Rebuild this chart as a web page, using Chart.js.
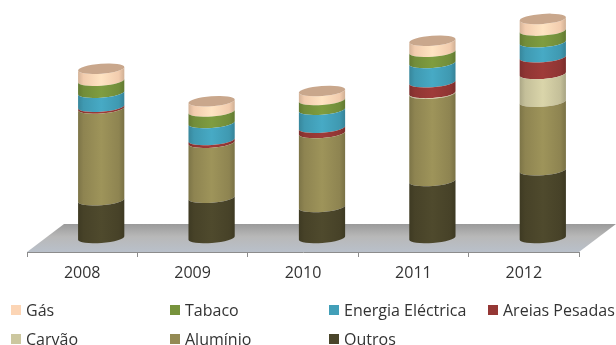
<!DOCTYPE html>
<html><head><meta charset="utf-8">
<style>html,body{margin:0;padding:0;background:#fff;overflow:hidden}#w{position:relative;width:616px;height:345px}</style>
<script src="https://cdn.jsdelivr.net/npm/chart.js@4"></script>
</head><body><div id="w"><canvas id="c" width="616" height="345"></canvas></div>
<script>
const categories = ['2008','2009','2010','2011','2012'];
const outros   = [37.7, 40.3, 31.0, 57.0, 67.7];
const aluminio = [91.8, 55.0, 74.0, 87.3, 68.6];
const carvao   = [0, 0, 0, 0.6, 27.7];
const areias   = [1.8, 2.7, 5.3, 10.8, 16.7];
const energia  = [14.0, 17.0, 18.0, 19.3, 15.0];
const tabaco   = [12.0, 11.5, 9.7, 11.3, 11.7];
const gas      = [12.0, 10.3, 9.0, 11.0, 11.7];

const FAMILY = '"Open Sans", sans-serif';
const DX = 19, DY = -14, RY = 5, ROT = -0.075;

function shade(hex, f){
  const n = parseInt(hex.slice(1),16);
  const c = [n>>16,(n>>8)&255,n&255].map(v=>Math.round(Math.min(255,v*f)));
  return `rgb(${c[0]},${c[1]},${c[2]})`;
}
// Cylinder look for the library's own bar elements
Chart.BarElement.prototype.draw = function(ctx){
  const p = this.getProps(['x','y','base','width']);
  if (Math.abs(p.base - p.y) < 0.05) return;
  const cx = p.x + DX, rx = p.width/2, top = p.y + DY, bot = p.base + DY;
  const col = this.options.backgroundColor;
  const g = ctx.createLinearGradient(cx-rx,0,cx+rx,0);
  g.addColorStop(0, shade(col,.84));
  g.addColorStop(.12, shade(col,.96));
  g.addColorStop(.5, shade(col,1.07));
  g.addColorStop(.88, shade(col,.96));
  g.addColorStop(1, shade(col,.82));
  ctx.save();
  ctx.beginPath();
  ctx.ellipse(cx,bot,rx,RY,ROT,0,Math.PI);
  ctx.ellipse(cx,top,rx,RY,ROT,Math.PI,0,true);
  ctx.closePath();
  ctx.fillStyle = g;
  ctx.fill();
  ctx.restore();
};

const floorPlugin = {
  id:'floor',
  beforeDraw(chart){
    const {ctx, chartArea:a} = chart;
    const skewX = 37, skewY = 28;
    const g = ctx.createLinearGradient(0,a.bottom-skewY,0,a.bottom);
    g.addColorStop(0,'#9a9a9a'); g.addColorStop(.45,'#b8b8b8'); g.addColorStop(1,'#b9c0ca');
    ctx.save();
    ctx.beginPath();
    ctx.moveTo(a.left,a.bottom);
    ctx.lineTo(a.left+skewX,a.bottom-skewY);
    ctx.lineTo(a.right+skewX,a.bottom-skewY);
    ctx.lineTo(a.right,a.bottom);
    ctx.closePath();
    ctx.fillStyle = g;
    ctx.fill();
    ctx.restore();
  }
};
const capPlugin = {
  id:'cap',
  afterDatasetsDraw(chart){
    const {ctx} = chart;
    const last = chart.getDatasetMeta(chart.data.datasets.length-1);
    last.data.forEach(el=>{
      ctx.save();
      ctx.beginPath();
      ctx.ellipse(el.x+DX, el.y+DY, el.width/2, RY, ROT, 0, Math.PI*2);
      ctx.fillStyle = '#c9a78c';
      ctx.fill();
      ctx.restore();
    });
  }
};
const legendPlugin = {
  id:'gridLegend',
  afterDraw(chart){
    const {ctx} = chart;
    const cols = [11,170,329,488], rows = [310,339];
    const ds = chart.data.datasets.slice().reverse();
    ctx.save();
    ctx.font = '16px ' + FAMILY; ctx.textBaseline = 'middle'; ctx.textAlign='left';
    let col = 0, row = 0;
    ds.forEach(d=>{
      ctx.fillStyle = d.backgroundColor;
      ctx.fillRect(cols[col], rows[row]-5, 10, 10);
      ctx.fillStyle = '#333333';
      ctx.fillText(d.label, cols[col]+15, rows[row]+1);
      col++;
      if (col === 4){col = 0; row++;}
    });
    ctx.restore();
  }
};

new Chart(document.getElementById('c'),{
  type:'bar',
  data:{labels:categories,datasets:[
    {label:'Outros',data:outros,backgroundColor:'#4a452a'},
    {label:'Alumínio',data:aluminio,backgroundColor:'#948a54'},
    {label:'Carvão',data:carvao,backgroundColor:'#ccc79f'},
    {label:'Areias Pesadas',data:areias,backgroundColor:'#953735'},
    {label:'Energia Eléctrica',data:energia,backgroundColor:'#429fb8'},
    {label:'Tabaco',data:tabaco,backgroundColor:'#77933c'},
    {label:'Gás',data:gas,backgroundColor:'#fcd5b5'}
  ]},
  options:{
    responsive:false,animation:false,
    layout:{padding:{left:27,right:37,top:0,bottom:0}},
    datasets:{bar:{categoryPercentage:1,barPercentage:.42}},
    plugins:{legend:{display:false},tooltip:{enabled:false}},
    scales:{
      x:{stacked:true,
        afterFit(s){s.height=93;},
        grid:{drawOnChartArea:false,drawTicks:true,tickLength:5,color:'#8c8c8c'},
        border:{color:'#8c8c8c'},
        ticks:{color:'#333333',font:{family:FAMILY,size:16},padding:7,maxRotation:0}},
      y:{stacked:true,display:false,min:0,max:252}
    }
  },
  plugins:[floorPlugin,capPlugin,legendPlugin]
});
</script></body></html>
